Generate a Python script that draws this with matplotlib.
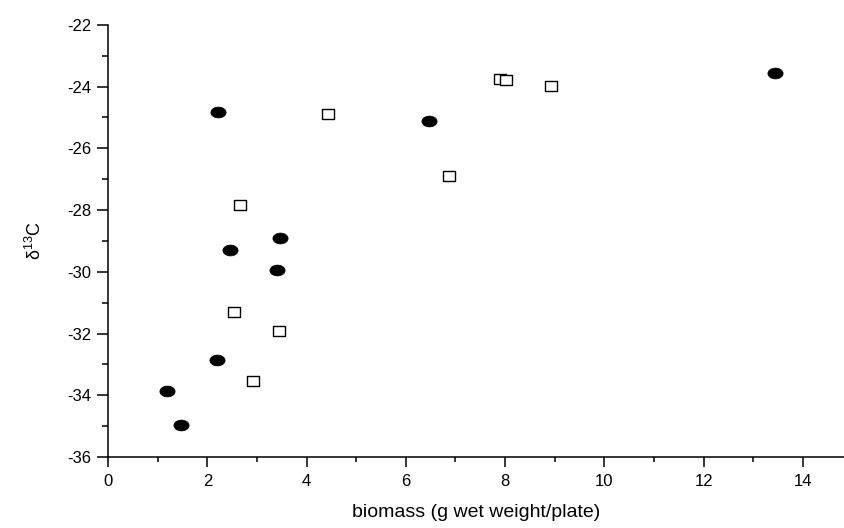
import numpy as np
import matplotlib
matplotlib.use('Agg')
import matplotlib.pyplot as plt
from matplotlib.path import Path
from matplotlib.ticker import MultipleLocator

plt.rcParams['font.family'] = ['Liberation Sans', 'DejaVu Sans']
plt.rcParams['mathtext.fontset'] = 'custom'
plt.rcParams['mathtext.rm'] = 'Liberation Sans'
plt.rcParams['axes.unicode_minus'] = False

#filled circles
x_filled = [1.19, 1.46, 2.19, 2.22, 2.46, 3.41, 3.46, 6.47, 13.43]
y_filled = [-33.85, -34.95, -32.85, -24.84, -29.3, -29.94, -28.9, -25.12, -23.57]

#open squares
x_open = [2.53, 2.66, 2.91, 3.45, 4.44, 6.86, 7.9, 8.01, 8.92]
y_open = [-31.3, -27.83, -33.55, -31.92, -24.88, -26.9, -23.74, -23.78, -23.97]

#ellipse and flat rectangle marker shapes
t = np.linspace(0, 2 * np.pi, 40)
ellipse = Path(np.column_stack([0.7 * np.cos(t), 0.5 * np.sin(t)]), closed=True)
rect = Path([(-0.6, -0.45), (0.6, -0.45), (0.6, 0.45), (-0.6, 0.45), (-0.6, -0.45)], closed=True)

fig = plt.figure(figsize=(8.45, 5.28), dpi=100)
ax = fig.add_axes([0.128, 0.1345, 0.872, 0.8185])

ax.scatter(x_filled, y_filled, marker=ellipse, s=120, c='black', edgecolors='black', linewidths=0.5, zorder=3)
ax.scatter(x_open, y_open, marker=rect, s=85, facecolors='white', edgecolors='black', linewidths=1.0, zorder=3)

ax.set_xlim(0, 14.85)
ax.set_ylim(-36, -22)
ax.xaxis.set_major_locator(MultipleLocator(2))
ax.xaxis.set_minor_locator(MultipleLocator(1))
ax.yaxis.set_major_locator(MultipleLocator(2))
ax.yaxis.set_minor_locator(MultipleLocator(1))

for s in ['top', 'right']:
    ax.spines[s].set_visible(False)
for s in ['left', 'bottom']:
    ax.spines[s].set_linewidth(1.1)

ax.tick_params(axis='both', which='major', direction='out', width=1.1, labelsize=12)
ax.tick_params(axis='y', which='major', length=8, pad=4)
ax.tick_params(axis='y', which='minor', length=4.5, width=1.1)
ax.tick_params(axis='x', which='major', length=7, pad=5)
ax.tick_params(axis='x', which='minor', length=3.5, width=1.1)

ax.set_xlabel('biomass (g wet weight/plate)', fontsize=14, labelpad=11)
ax.set_ylabel('δ$^{13}$C', fontsize=13, labelpad=16)

plt.savefig('out.png', dpi=100)
